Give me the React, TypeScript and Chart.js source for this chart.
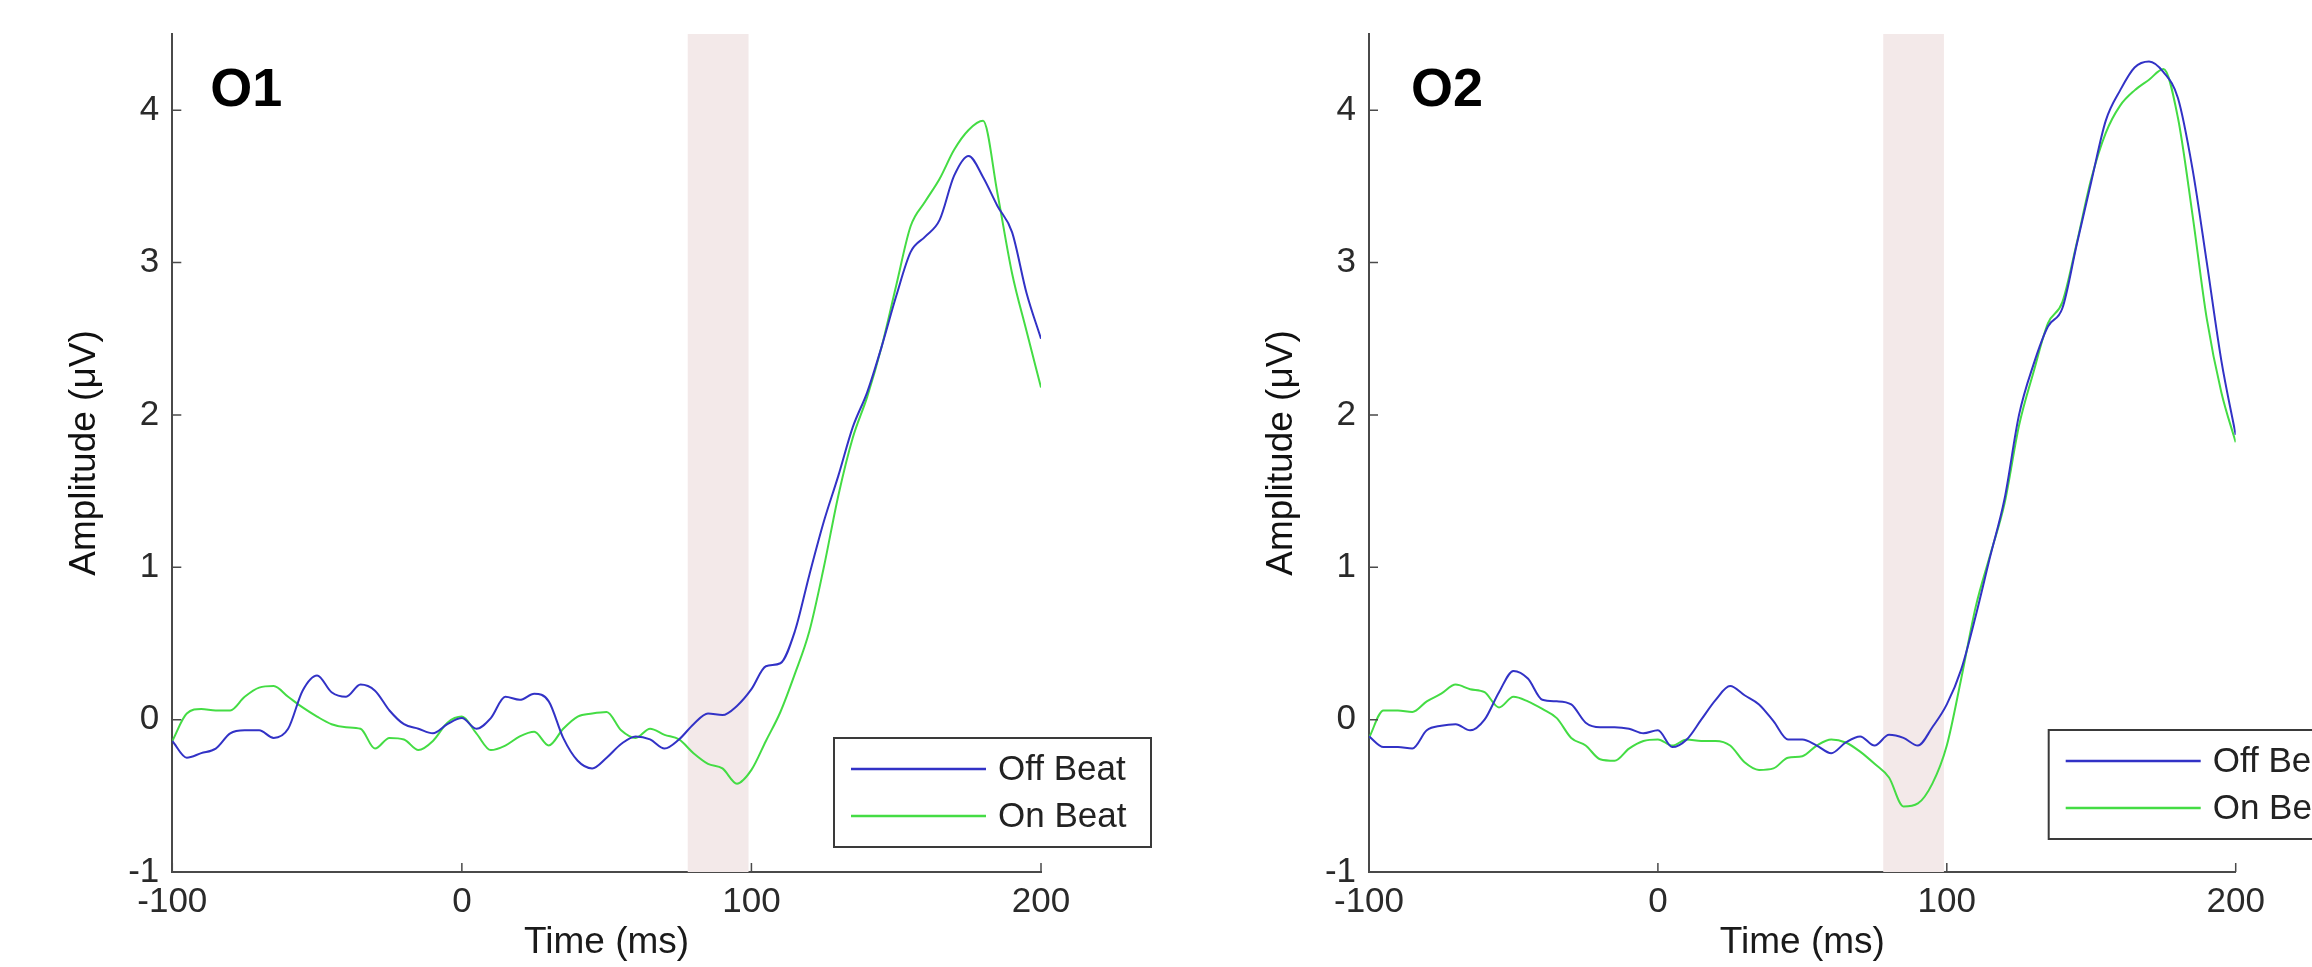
import { useEffect, useRef } from "react";
import { Chart, registerables } from "chart.js";

Chart.register(...registerables);

// Time axis (ms) shared by both occipital channels
const timeMs = [
  -100, -95, -90, -85, -80, -75, -70, -65, -60, -55, -50, -45, -40, -35, -30, -25, -20, -15, -10, -5,
  0, 5, 10, 15, 20, 25, 30, 35, 40, 45, 50, 55, 60, 65, 70, 75, 80, 85, 90, 95,
  100, 105, 110, 115, 120, 125, 130, 135, 140, 145, 150, 155, 160, 165, 170, 175, 180, 185, 190, 195, 200,
];

// O1 grand-average amplitudes (µV)
const o1OffBeat = [
  -0.14, -0.25, -0.22, -0.19, -0.09, -0.07, -0.07, -0.12, -0.06, 0.19, 0.29, 0.18, 0.15, 0.23, 0.19, 0.06, -0.03, -0.06, -0.09, -0.03,
  0.01, -0.06, 0.01, 0.15, 0.13, 0.17, 0.12, -0.12, -0.27, -0.32, -0.25, -0.16, -0.11, -0.13, -0.19, -0.13, -0.03, 0.04, 0.03, 0.09,
  0.2, 0.35, 0.37, 0.58, 0.95, 1.3, 1.6, 1.92, 2.15, 2.45, 2.78, 3.07, 3.17, 3.28, 3.57, 3.7, 3.56, 3.37, 3.2, 2.8, 2.5,
];
const o1OnBeat = [
  -0.14, 0.04, 0.07, 0.06, 0.06, 0.15, 0.21, 0.22, 0.15, 0.08, 0.02, -0.03, -0.05, -0.06, -0.19, -0.12, -0.13, -0.2, -0.14, -0.02,
  0.02, -0.09, -0.2, -0.17, -0.11, -0.08, -0.17, -0.06, 0.02, 0.04, 0.05, -0.07, -0.12, -0.06, -0.1, -0.13, -0.22, -0.29, -0.32, -0.42,
  -0.33, -0.14, 0.05, 0.3, 0.58, 1.0, 1.47, 1.85, 2.12, 2.45, 2.85, 3.24, 3.4, 3.55, 3.74, 3.87, 3.93, 3.45, 2.93, 2.55, 2.18,
];

// O2 grand-average amplitudes (µV)
const o2OffBeat = [
  -0.11, -0.18, -0.18, -0.19, -0.07, -0.04, -0.03, -0.07, 0.0, 0.18, 0.32, 0.27, 0.13, 0.12, 0.1, -0.02, -0.05, -0.05, -0.06, -0.09,
  -0.07, -0.18, -0.13, 0.0, 0.13, 0.22, 0.16, 0.1, -0.01, -0.13, -0.13, -0.17, -0.22, -0.15, -0.11, -0.17, -0.1, -0.12, -0.17, -0.05,
  0.1, 0.33, 0.68, 1.07, 1.45, 2.0, 2.33, 2.58, 2.7, 3.12, 3.53, 3.93, 4.13, 4.28, 4.32, 4.25, 4.08, 3.62, 3.0, 2.36, 1.87,
];
const o2OnBeat = [
  -0.12, 0.06, 0.06, 0.05, 0.12, 0.17, 0.23, 0.2, 0.18, 0.08, 0.15, 0.12, 0.07, 0.01, -0.12, -0.17, -0.26, -0.27, -0.19, -0.14,
  -0.13, -0.17, -0.13, -0.14, -0.14, -0.17, -0.28, -0.33, -0.32, -0.25, -0.24, -0.17, -0.13, -0.15, -0.21, -0.29, -0.38, -0.57, -0.55, -0.42,
  -0.17, 0.27, 0.74, 1.08, 1.42, 1.93, 2.28, 2.6, 2.74, 3.13, 3.55, 3.85, 4.03, 4.13, 4.2, 4.27, 3.95, 3.32, 2.63, 2.15, 1.82,
];

const seriesLabels = ["Off Beat", "On Beat"];
const xTicks = [-100, 0, 100, 200];
const yTicks = [-1, 0, 1, 2, 3, 4];
const xRange = [-100, 200];
const yRange = [-1, 4.5];
const shadeWindowMs = [78, 99];

const FONT = "'Liberation Sans', Arial, Helvetica, sans-serif";
const HEIGHT = 967;
const BLUE = "#3232c6";
const GREEN = "#44dc44";
const AXIS = "#4a4a4a";
const SHADE = "rgb(243, 233, 233)";

type PanelSpec = {
  name: string;
  off: number[];
  on: number[];
  left: number;
  width: number;
  yAxisWidth: number;
  padRight: number;
  legendDx: number;
  legendDy: number;
  labelDx: number;
  yTitlePad: number;
};

const panels: PanelSpec[] = [
  { name: "O1", off: o1OffBeat, on: o1OnBeat, left: 0, width: 1180, yAxisWidth: 172.3, padRight: 139, legendDx: -207, legendDy: -134, labelDx: 38, yTitlePad: 63 },
  { name: "O2", off: o2OffBeat, on: o2OnBeat, left: 1197, width: 1115, yAxisWidth: 172, padRight: 76.3, legendDx: -187, legendDy: -142, labelDx: 42, yTitlePad: 63 },
];

// Light band marking the analysis window
const shadePlugin = {
  id: "shadeWindow",
  beforeDatasetsDraw(chart: any) {
    const { ctx, chartArea, scales } = chart;
    const x0 = scales.x.getPixelForValue(shadeWindowMs[0]);
    const x1 = scales.x.getPixelForValue(shadeWindowMs[1]);
    ctx.save();
    ctx.fillStyle = SHADE;
    ctx.fillRect(x0, chartArea.top, x1 - x0, chartArea.bottom - chartArea.top);
    ctx.restore();
  },
};

// Inward tick marks, MATLAB style
const innerTicksPlugin = {
  id: "innerTicks",
  afterDraw(chart: any) {
    const { ctx, chartArea, scales } = chart;
    const len = 9;
    ctx.save();
    ctx.strokeStyle = AXIS;
    ctx.lineWidth = 1.5;
    ctx.beginPath();
    scales.x.ticks.forEach((t: any) => {
      const px = scales.x.getPixelForValue(t.value);
      ctx.moveTo(px, chartArea.bottom);
      ctx.lineTo(px, chartArea.bottom - len);
    });
    scales.y.ticks.forEach((t: any) => {
      const py = scales.y.getPixelForValue(t.value);
      ctx.moveTo(chartArea.left, py);
      ctx.lineTo(chartArea.left + len, py);
    });
    ctx.stroke();
    ctx.restore();
  },
};

// Boxed legend in the lower right
const boxLegendPlugin = {
  id: "boxLegend",
  afterDraw(chart: any, _args: any, opts: any) {
    const { ctx, chartArea } = chart;
    const bx = chartArea.right + opts.dx;
    const by = chartArea.bottom + opts.dy;
    const w = 317;
    const h = 109;
    ctx.save();
    ctx.fillStyle = "#ffffff";
    ctx.fillRect(bx, by, w, h);
    ctx.strokeStyle = "#3a3a3a";
    ctx.lineWidth = 2;
    ctx.strokeRect(bx, by, w, h);
    chart.data.datasets.forEach((ds: any, i: number) => {
      const y = by + 31 + i * 47;
      ctx.strokeStyle = ds.borderColor;
      ctx.lineWidth = 2.5;
      ctx.beginPath();
      ctx.moveTo(bx + 17, y);
      ctx.lineTo(bx + 152, y);
      ctx.stroke();
      ctx.fillStyle = "#222222";
      ctx.font = `35px ${FONT}`;
      ctx.textAlign = "left";
      ctx.textBaseline = "middle";
      ctx.fillText(ds.label, bx + 164, y + 1);
    });
    ctx.restore();
  },
};

// Channel name in the top-left corner of the axes
const channelLabelPlugin = {
  id: "channelLabel",
  afterDraw(chart: any, _args: any, opts: any) {
    const { ctx, chartArea } = chart;
    ctx.save();
    ctx.fillStyle = "#000000";
    ctx.font = `bold 54px ${FONT}`;
    ctx.textAlign = "left";
    ctx.textBaseline = "alphabetic";
    ctx.fillText(opts.text, chartArea.left + opts.dx, chartArea.top + 72);
    ctx.restore();
  },
};

function Panel({ spec }: { spec: PanelSpec }) {
  const ref = useRef<HTMLCanvasElement | null>(null);

  useEffect(() => {
    if (!ref.current) return;
    const toPoints = (vals: number[]) => timeMs.map((t, i) => ({ x: t, y: vals[i] }));
    const chart = new Chart(ref.current, {
      type: "line",
      data: {
        datasets: [
          {
            label: seriesLabels[0],
            data: toPoints(spec.off),
            borderColor: BLUE,
            borderWidth: 2,
            pointRadius: 0,
            fill: false,
            cubicInterpolationMode: "monotone",
          },
          {
            label: seriesLabels[1],
            data: toPoints(spec.on),
            borderColor: GREEN,
            borderWidth: 2,
            pointRadius: 0,
            fill: false,
            cubicInterpolationMode: "monotone",
          },
        ],
      },
      options: {
        animation: false,
        responsive: false,
        maintainAspectRatio: false,
        devicePixelRatio: 1,
        layout: {
          autoPadding: false,
          padding: { left: 0, top: 32, right: spec.padRight, bottom: 0 },
        },
        plugins: {
          legend: { display: false },
          tooltip: { enabled: false },
          boxLegend: { dx: spec.legendDx, dy: spec.legendDy },
          channelLabel: { text: spec.name, dx: spec.labelDx },
        } as any,
        scales: {
          x: {
            type: "linear",
            min: xRange[0],
            max: xRange[1],
            afterBuildTicks: (s: any) => {
              s.ticks = xTicks.map((v) => ({ value: v }));
            },
            afterFit: (s: any) => {
              s.height = HEIGHT - 872;
            },
            grid: { display: false, drawTicks: false },
            border: { display: true, color: AXIS, width: 2 },
            ticks: {
              autoSkip: false,
              maxRotation: 0,
              padding: 9,
              color: "#2a2a2a",
              font: { family: FONT, size: 35 },
            },
            title: {
              display: true,
              text: "Time (ms)",
              color: "#1a1a1a",
              font: { family: FONT, size: 37 },
              padding: { top: 0, bottom: 2 },
            },
          },
          y: {
            type: "linear",
            min: yRange[0],
            max: yRange[1],
            afterBuildTicks: (s: any) => {
              s.ticks = yTicks.map((v) => ({ value: v }));
            },
            afterFit: (s: any) => {
              s.width = spec.yAxisWidth;
            },
            grid: { display: false, drawTicks: false },
            border: { display: true, color: AXIS, width: 2 },
            ticks: {
              padding: 13,
              color: "#2a2a2a",
              font: { family: FONT, size: 35 },
            },
            title: {
              display: true,
              text: "Amplitude (μV)",
              color: "#111111",
              font: { family: FONT, size: 37 },
              padding: { top: spec.yTitlePad, bottom: 0 },
            },
          },
        },
      },
      plugins: [shadePlugin, innerTicksPlugin, boxLegendPlugin, channelLabelPlugin],
    } as any);
    return () => chart.destroy();
  }, [spec]);

  return (
    <canvas
      ref={ref}
      width={spec.width}
      height={HEIGHT}
      style={{ position: "absolute", left: spec.left, top: 0, width: spec.width, height: HEIGHT }}
    />
  );
}

export default function App() {
  return (
    <div
      style={{
        position: "fixed",
        left: 0,
        top: 0,
        width: 2312,
        height: HEIGHT,
        overflow: "hidden",
        background: "#ffffff",
      }}
    >
      {panels.map((p) => (
        <Panel key={p.name} spec={p} />
      ))}
    </div>
  );
}
